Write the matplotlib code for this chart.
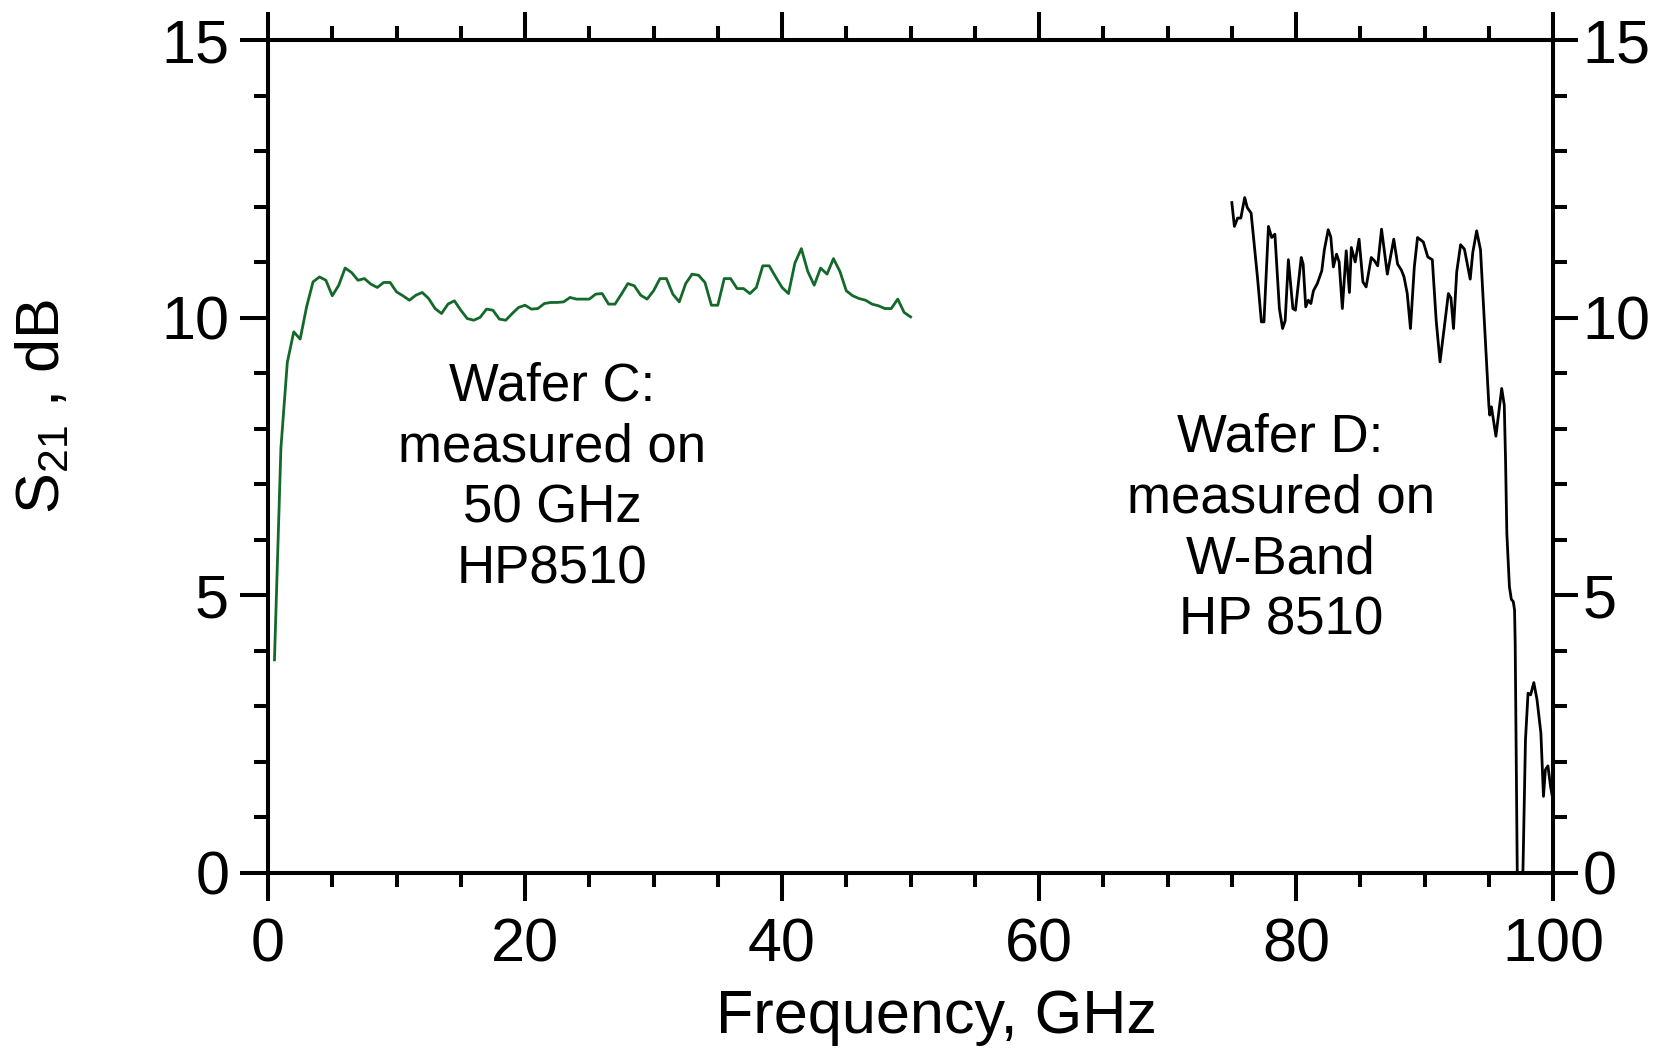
import matplotlib
matplotlib.use('Agg')
import matplotlib.pyplot as plt
from matplotlib.ticker import MultipleLocator

plt.rcParams['font.family'] = ['Liberation Sans', 'DejaVu Sans']
plt.rcParams['mathtext.fontset'] = 'custom'
plt.rcParams['mathtext.rm'] = 'Liberation Sans'

# wafer C, 50 GHz HP8510 sweep
freq_c = [0.5, 1.0, 1.5, 2.0, 2.5, 3.0, 3.5, 4.0, 4.5, 5.0,
          5.5, 6.0, 6.5, 7.0, 7.5, 8.0, 8.5, 9.0, 9.5, 10.0,
          10.5, 11.0, 11.5, 12.0, 12.5, 13.0, 13.5, 14.0, 14.5, 15.0,
          15.5, 16.0, 16.5, 17.0, 17.5, 18.0, 18.5, 19.0, 19.5, 20.0,
          20.5, 21.0, 21.5, 22.0, 22.5, 23.0, 23.5, 24.0, 24.5, 25.0,
          25.5, 26.0, 26.5, 27.0, 27.5, 28.0, 28.5, 29.0, 29.5, 30.0,
          30.5, 31.0, 31.5, 32.0, 32.5, 33.0, 33.5, 34.0, 34.5, 35.0,
          35.5, 36.0, 36.5, 37.0, 37.5, 38.0, 38.5, 39.0, 39.5, 40.0,
          40.5, 41.0, 41.5, 42.0, 42.5, 43.0, 43.5, 44.0, 44.5, 45.0,
          45.5, 46.0, 46.5, 47.0, 47.5, 48.0, 48.5, 49.0, 49.5, 50.0]
s21_c = [3.84, 7.65, 9.20, 9.75, 9.62, 10.20, 10.65, 10.74, 10.68, 10.40,
         10.59, 10.90, 10.82, 10.68, 10.71, 10.61, 10.55, 10.64, 10.64, 10.47,
         10.40, 10.32, 10.41, 10.46, 10.35, 10.17, 10.08, 10.25, 10.31, 10.14,
         9.99, 9.96, 10.01, 10.16, 10.14, 9.98, 9.96, 10.08, 10.19, 10.23,
         10.16, 10.17, 10.26, 10.28, 10.28, 10.29, 10.37, 10.34, 10.34, 10.34,
         10.43, 10.44, 10.25, 10.25, 10.43, 10.62, 10.58, 10.41, 10.34, 10.49,
         10.71, 10.71, 10.43, 10.29, 10.62, 10.79, 10.77, 10.64, 10.23, 10.23,
         10.71, 10.71, 10.53, 10.53, 10.44, 10.55, 10.94, 10.94, 10.74, 10.55,
         10.44, 10.99, 11.25, 10.84, 10.59, 10.90, 10.79, 11.07, 10.84, 10.49,
         10.40, 10.35, 10.32, 10.25, 10.22, 10.17, 10.17, 10.34, 10.10, 10.02]

# wafer D, W-band HP 8510
freq_d = [75.0, 75.2, 75.45, 75.7, 76.0, 76.2, 76.5, 77.0, 77.3, 77.5,
          77.85, 78.1, 78.35, 78.7, 78.95, 79.15, 79.4, 79.75, 79.95, 80.4,
          80.55, 80.75, 80.95, 81.15, 81.35, 81.65, 82.0, 82.2, 82.5, 82.7,
          82.9, 83.15, 83.35, 83.6, 83.9, 84.15, 84.3, 84.6, 84.9, 85.2,
          85.45, 85.85, 86.1, 86.35, 86.65, 87.1, 87.6, 87.9, 88.2, 88.4,
          88.65, 88.9, 89.2, 89.45, 89.9, 90.25, 90.6, 90.9, 91.2, 91.6,
          91.85, 92.05, 92.25, 92.5, 92.8, 93.1, 93.55, 93.75, 94.05, 94.35,
          95.0, 95.07, 95.2, 95.55, 96.0, 96.2, 96.3, 96.4, 96.6, 96.75,
          96.9, 97.0, 97.05, 97.25, 97.55, 97.67, 97.85, 98.05, 98.25, 98.5,
          98.75, 99.05, 99.25, 99.4, 99.6, 99.8, 100.0]
s21_d = [12.08, 11.65, 11.80, 11.80, 12.17, 11.99, 11.89, 10.72, 9.93, 9.93,
         11.65, 11.45, 11.51, 10.17, 9.81, 9.95, 11.05, 10.17, 10.14, 11.09,
         10.97, 10.20, 10.32, 10.26, 10.49, 10.62, 10.85, 11.23, 11.59, 11.46,
         10.92, 11.15, 11.01, 10.17, 11.21, 10.46, 11.27, 11.01, 11.42, 10.65,
         10.56, 11.09, 11.03, 10.94, 11.60, 10.79, 11.42, 10.97, 10.86, 10.74,
         10.44, 9.81, 10.92, 11.45, 11.37, 11.10, 11.05, 9.96, 9.21, 9.96,
         10.44, 10.36, 9.81, 10.83, 11.32, 11.24, 10.70, 11.18, 11.57, 11.23,
         8.43, 8.25, 8.40, 7.87, 8.73, 8.43, 7.44, 6.12, 5.16, 4.93,
         4.89, 4.74, 4.14, -1.0, -1.0, 0.23, 2.40, 3.24, 3.21, 3.43,
         3.12, 2.52, 1.38, 1.86, 1.93, 1.56, 1.30]

fig = plt.figure(figsize=(16.7, 10.49), dpi=100)
ax = fig.add_axes([0.1605, 0.1678, 0.7695, 0.7936])

ax.plot(freq_c, s21_c, color='#13692a', lw=2.0)
ax.plot(freq_d, s21_d, color='black', lw=2.0)

ax.set_xlim(0, 100)
ax.set_ylim(0, 15)
ax.xaxis.set_major_locator(MultipleLocator(20))
ax.xaxis.set_minor_locator(MultipleLocator(5))
ax.yaxis.set_major_locator(MultipleLocator(5))
ax.yaxis.set_minor_locator(MultipleLocator(1))

for sp in ax.spines.values():
    sp.set_linewidth(2.9)

ax.tick_params(which='both', direction='out', width=2.9, top=True, right=False,
               labelsize=44)
ax.tick_params(which='major', length=20)
ax.tick_params(which='minor', length=10)
ax.tick_params(axis='x', which='major', pad=12)
ax.tick_params(axis='y', which='major', pad=8)

# right hand axis: same scale, labels sit closer to the ticks
ax2 = ax.twinx()
ax2.set_ylim(0, 15)
ax2.yaxis.set_major_locator(MultipleLocator(5))
ax2.yaxis.set_minor_locator(MultipleLocator(1))
ax2.tick_params(which='both', direction='out', width=2.9, labelsize=44)
ax2.tick_params(which='major', length=18, pad=3)
ax2.tick_params(which='minor', length=10)
for sp in ax2.spines.values():
    sp.set_linewidth(2.9)

fig.text(0.561, 0.030, 'Frequency, GHz', ha='center', va='center', fontsize=44)
fig.text(0.026, 0.612, r'$\mathregular{S_{21}}$ , dB', ha='center', va='center',
         rotation=90, fontsize=44)

ax.text(22.1, 7.12, 'Wafer C:\nmeasured on\n50 GHz\nHP8510', ha='center',
        va='center', fontsize=38, linespacing=1.28)
ax.text(78.8, 6.2, 'Wafer D:\nmeasured on\nW-Band\nHP 8510', ha='center',
        va='center', fontsize=38, linespacing=1.28)

fig.savefig('out.png', dpi=100)
